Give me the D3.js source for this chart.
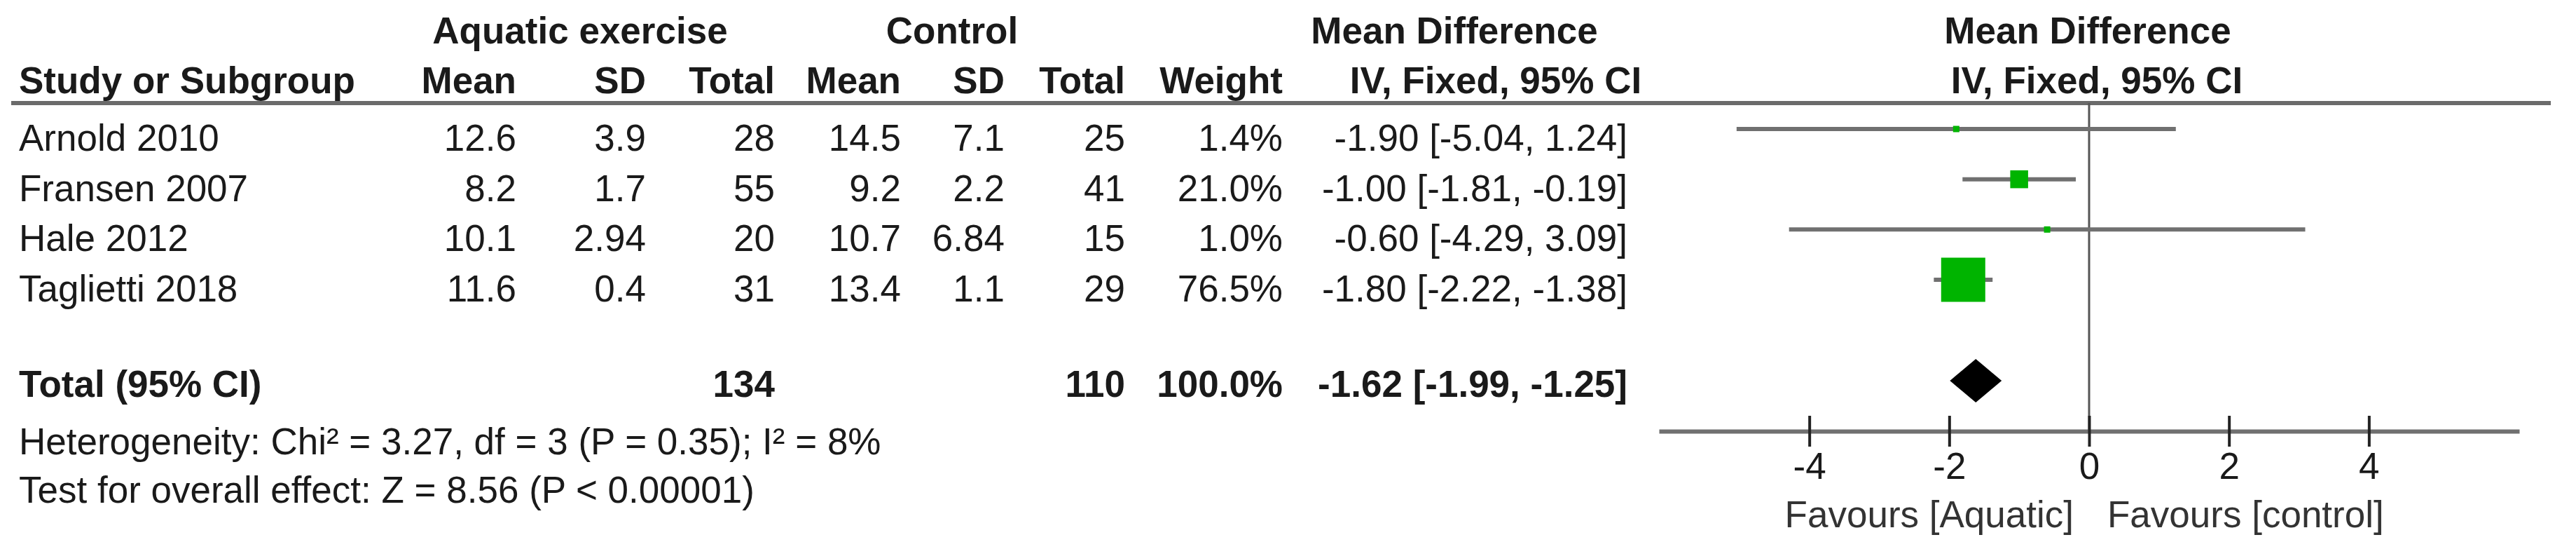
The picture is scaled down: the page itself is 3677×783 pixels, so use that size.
<html>
<head>
<script src="https://d3js.org/d3.v7.min.js"></script>
<style>
  body { margin: 0; background: #fff; }
  svg text { font-family: "Liberation Sans", Arial, sans-serif; font-size: 53px; fill: #1a1a1a; }
  .b { font-weight: bold; }
</style>
</head>
<body>
<svg width="3677" height="783"></svg>
<script>
// study rows
var studies = ['Arnold 2010', 'Fransen 2007', 'Hale 2012', 'Taglietti 2018'];
var expMean = ['12.6', '8.2', '10.1', '11.6'];
var expSD = ['3.9', '1.7', '2.94', '0.4'];
var expTotal = [28, 55, 20, 31];
var ctlMean = ['14.5', '9.2', '10.7', '13.4'];
var ctlSD = ['7.1', '2.2', '6.84', '1.1'];
var ctlTotal = [25, 41, 15, 29];
var weights = [1.4, 21.0, 1.0, 76.5];
var md = [-1.90, -1.00, -0.60, -1.80];
var ciLow = [-5.04, -1.81, -4.29, -2.22];
var ciHigh = [1.24, -0.19, 3.09, -1.38];

// pooled result
var totalExp = 134;
var totalCtl = 110;
var totalWeight = 100.0;
var pooled = [-1.62, -1.99, -1.25]; // estimate, low, high

var axisTicks = [-4, -2, 0, 2, 4];
var favours = ['Favours [Aquatic]', 'Favours [control]'];
var notes = [
    'Heterogeneity: Chi\u00b2 = 3.27, df = 3 (P = 0.35); I\u00b2 = 8%',
    'Test for overall effect: Z = 8.56 (P < 0.00001)'
];

var svg = d3.select('svg');
svg.append('rect').attr('width', 3677).attr('height', 783).attr('fill', '#fff');

var rows = studies.map((s, i) => ({
    name: s, em: expMean[i], esd: expSD[i], et: expTotal[i],
    cm: ctlMean[i], csd: ctlSD[i], ct: ctlTotal[i],
    w: weights[i], md: md[i], lo: ciLow[i], hi: ciHigh[i]
}));

// baselines of the study rows
var yRow = d3.scalePoint().domain(studies).range([215, 430]);
var totalY = 566;
var plotOff = -31; // plot marks sit a bit above text baseline

var x = d3.scaleLinear().domain([-6.15, 6.15]).range([2368, 3596]);
var side = d3.scalePow().exponent(0.7).domain([0, 76.5]).range([0, 63]);

function fmt2(v) { return v.toFixed(2); }
function ciText(m, l, h) { return fmt2(m) + ' [' + fmt2(l) + ', ' + fmt2(h) + ']'; }

// header
function txt(xp, yp, s, anchor, bold) {
    svg.append('text').attr('x', xp).attr('y', yp)
        .attr('text-anchor', anchor || 'start')
        .attr('class', bold ? 'b' : null)
        .text(s);
}
txt(828, 62, 'Aquatic exercise', 'middle', true);
txt(1359, 62, 'Control', 'middle', true);
txt(2076, 62, 'Mean Difference', 'middle', true);
txt(2980, 62, 'Mean Difference', 'middle', true);

var cols = [
    { key: 'em', x: 737, head: 'Mean' },
    { key: 'esd', x: 922, head: 'SD' },
    { key: 'et', x: 1106, head: 'Total' },
    { key: 'cm', x: 1286, head: 'Mean' },
    { key: 'csd', x: 1434, head: 'SD' },
    { key: 'ct', x: 1606, head: 'Total' },
    { key: 'w', x: 1831, head: 'Weight', f: d => d.toFixed(1) + '%' },
    { key: 'ci', x: 2323, head: null }
];
txt(27, 133, 'Study or Subgroup', 'start', true);
cols.forEach(c => { if (c.head) txt(c.x, 133, c.head, 'end', true); });
txt(2135, 133, 'IV, Fixed, 95% CI', 'middle', true);
txt(2993, 133, 'IV, Fixed, 95% CI', 'middle', true);

// header rule
svg.append('line').attr('x1', 16).attr('x2', 3641).attr('y1', 147).attr('y2', 147)
    .attr('stroke', '#6b6b6b').attr('stroke-width', 6);

// zero line
svg.append('line').attr('x1', x(0)).attr('x2', x(0)).attr('y1', 147).attr('y2', 615)
    .attr('stroke', '#555').attr('stroke-width', 3);

// table rows
var g = svg.selectAll('g.row').data(rows).enter().append('g').attr('class', 'row');
g.append('text').attr('x', 27).attr('y', d => yRow(d.name)).text(d => d.name);
cols.forEach(c => {
    g.append('text').attr('x', c.x).attr('y', d => yRow(d.name)).attr('text-anchor', 'end')
        .text(d => c.key == 'ci' ? ciText(d.md, d.lo, d.hi) : (c.f ? c.f(d[c.key]) : d[c.key]));
});

// confidence intervals and squares
g.append('line')
    .attr('x1', d => x(d.lo)).attr('x2', d => x(d.hi))
    .attr('y1', d => yRow(d.name) + plotOff).attr('y2', d => yRow(d.name) + plotOff)
    .attr('stroke', '#707070').attr('stroke-width', 6);
g.append('rect')
    .attr('x', d => x(d.md) - Math.max(9, side(d.w)) / 2)
    .attr('y', d => yRow(d.name) + plotOff - Math.max(9, side(d.w)) / 2)
    .attr('width', d => Math.max(9, side(d.w)))
    .attr('height', d => Math.max(9, side(d.w)))
    .attr('fill', '#00b400');

// total row
txt(27, totalY, 'Total (95% CI)', 'start', true);
txt(1106, totalY, totalExp, 'end', true);
txt(1606, totalY, totalCtl, 'end', true);
txt(1831, totalY, totalWeight.toFixed(1) + '%', 'end', true);
txt(2323, totalY, ciText(pooled[0], pooled[1], pooled[2]), 'end', true);

var dy = totalY - 23;
svg.append('path')
    .attr('d', 'M' + x(pooled[1]) + ',' + dy + 'L' + x(pooled[0]) + ',' + (dy - 31) +
        'L' + x(pooled[2]) + ',' + dy + 'L' + x(pooled[0]) + ',' + (dy + 31) + 'Z')
    .attr('fill', '#000');

txt(27, 648, notes[0]);
txt(27, 717, notes[1]);

// axis
var axisG = svg.append('g').attr('transform', 'translate(0,615)')
    .call(d3.axisBottom(x).tickValues(axisTicks).tickSizeOuter(0).tickFormat(d => String(d)));
axisG.select('.domain').attr('stroke', '#707070').attr('stroke-width', 6);
axisG.selectAll('.tick line').attr('y1', -22).attr('y2', 22)
    .attr('stroke', '#222').attr('stroke-width', 4);
axisG.selectAll('.tick text').attr('y', 68).attr('dy', null)
    .style('font-size', '53px').style('font-family', '"Liberation Sans", Arial, sans-serif')
    .attr('fill', '#1a1a1a');

svg.append('text').attr('x', x(0) - 22).attr('y', 752).attr('text-anchor', 'end')
    .style('fill', '#333').text(favours[0]);
svg.append('text').attr('x', x(0) + 26).attr('y', 752)
    .style('fill', '#333').text(favours[1]);
</script>
</body>
</html>
